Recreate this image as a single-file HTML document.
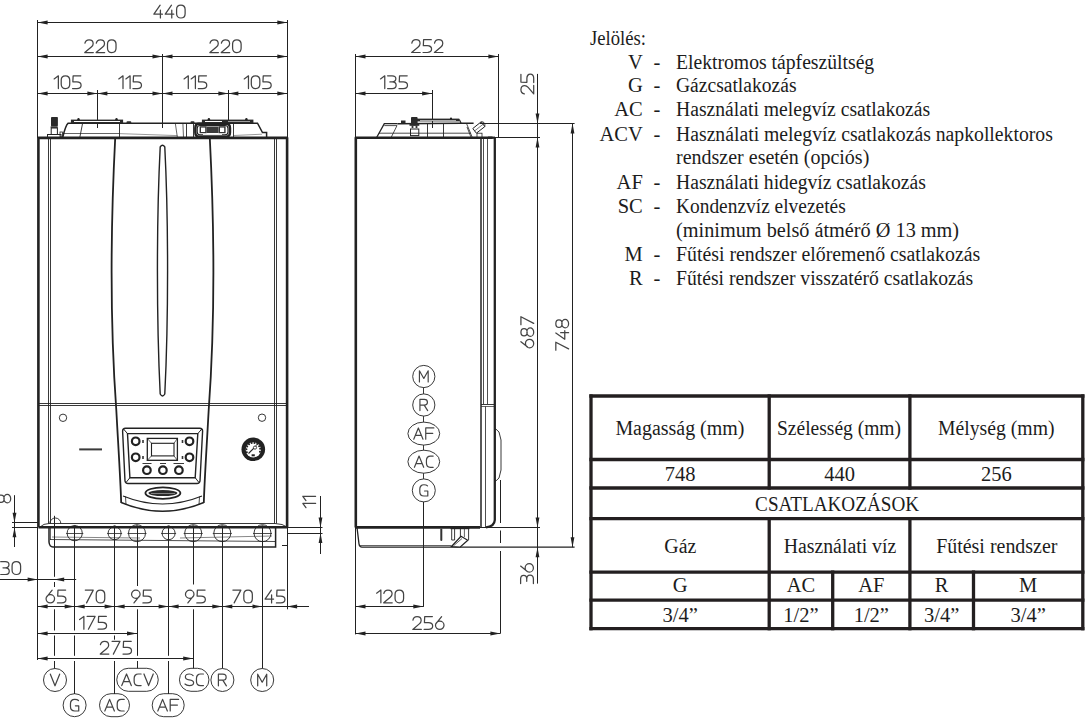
<!DOCTYPE html>
<html><head><meta charset="utf-8"><style>
html,body{margin:0;padding:0;background:#fff;width:1092px;height:722px;overflow:hidden}
svg{display:block}
.d{font-family:"Liberation Sans",sans-serif;font-size:18px;fill:#555}
.l{font-family:"Liberation Sans",sans-serif;font-size:15px;fill:#555}
.s{font-family:"Liberation Serif",serif;font-size:20.5px;fill:#1c1c1c}
</style></head><body>
<svg width="1092" height="722" viewBox="0 0 1092 722" stroke-linecap="butt">
<line x1="37.50" y1="20.00" x2="37.50" y2="137.90" stroke="#222" stroke-width="1.0"/>
<line x1="287.50" y1="20.00" x2="287.50" y2="137.90" stroke="#222" stroke-width="1.0"/>
<line x1="162.50" y1="54.00" x2="162.50" y2="128.00" stroke="#222" stroke-width="1.0"/>
<line x1="97.50" y1="90.00" x2="97.50" y2="128.00" stroke="#222" stroke-width="1.0"/>
<line x1="228.50" y1="90.00" x2="228.50" y2="128.00" stroke="#222" stroke-width="1.0"/>
<line x1="37.60" y1="22.50" x2="287.30" y2="22.50" stroke="#222" stroke-width="1.0"/>
<polygon points="37.60,22.50 47.60,20.60 47.60,24.40" fill="#222"/>
<polygon points="287.30,22.50 277.30,24.40 277.30,20.60" fill="#222"/>
<line x1="37.60" y1="56.50" x2="162.50" y2="56.50" stroke="#222" stroke-width="1.0"/>
<polygon points="37.60,56.50 47.60,54.60 47.60,58.40" fill="#222"/>
<polygon points="162.50,56.50 152.50,58.40 152.50,54.60" fill="#222"/>
<line x1="162.50" y1="56.50" x2="287.30" y2="56.50" stroke="#222" stroke-width="1.0"/>
<polygon points="162.50,56.50 172.50,54.60 172.50,58.40" fill="#222"/>
<polygon points="287.30,56.50 277.30,58.40 277.30,54.60" fill="#222"/>
<line x1="37.60" y1="93.50" x2="97.40" y2="93.50" stroke="#222" stroke-width="1.0"/>
<polygon points="37.60,93.50 47.60,91.60 47.60,95.40" fill="#222"/>
<polygon points="97.40,93.50 87.40,95.40 87.40,91.60" fill="#222"/>
<line x1="97.40" y1="93.50" x2="162.50" y2="93.50" stroke="#222" stroke-width="1.0"/>
<polygon points="97.40,93.50 107.40,91.60 107.40,95.40" fill="#222"/>
<polygon points="162.50,93.50 152.50,95.40 152.50,91.60" fill="#222"/>
<line x1="162.50" y1="93.50" x2="228.40" y2="93.50" stroke="#222" stroke-width="1.0"/>
<polygon points="162.50,93.50 172.50,91.60 172.50,95.40" fill="#222"/>
<polygon points="228.40,93.50 218.40,95.40 218.40,91.60" fill="#222"/>
<line x1="228.40" y1="93.50" x2="287.30" y2="93.50" stroke="#222" stroke-width="1.0"/>
<polygon points="228.40,93.50 238.40,91.60 238.40,95.40" fill="#222"/>
<polygon points="287.30,93.50 277.30,95.40 277.30,91.60" fill="#222"/>
<g transform="translate(153.88,5.22) scale(1.42)" fill="none" stroke="#444" stroke-width="0.88" stroke-linecap="round" stroke-linejoin="round"><path transform="translate(0.00,0)" d="M4.4,0 L0,6.3 L6,6.3 M4.6,3.4 L4.6,9"/><path transform="translate(8.00,0)" d="M4.4,0 L0,6.3 L6,6.3 M4.6,3.4 L4.6,9"/><path transform="translate(16.00,0)" d="M0,3 C0,1.2 1.3,0 3,0 C4.7,0 6,1.2 6,3 L6,6 C6,7.8 4.7,9 3,9 C1.3,9 0,7.8 0,6 Z"/></g>
<g transform="translate(84.78,39.82) scale(1.42)" fill="none" stroke="#444" stroke-width="0.88" stroke-linecap="round" stroke-linejoin="round"><path transform="translate(0.00,0)" d="M0.1,2.4 C0.4,0.9 1.5,0 3,0 C4.8,0 5.9,1.2 5.9,2.7 C5.9,3.7 5.4,4.4 4.6,5.1 L0,9 L6,9"/><path transform="translate(8.00,0)" d="M0.1,2.4 C0.4,0.9 1.5,0 3,0 C4.8,0 5.9,1.2 5.9,2.7 C5.9,3.7 5.4,4.4 4.6,5.1 L0,9 L6,9"/><path transform="translate(16.00,0)" d="M0,3 C0,1.2 1.3,0 3,0 C4.7,0 6,1.2 6,3 L6,6 C6,7.8 4.7,9 3,9 C1.3,9 0,7.8 0,6 Z"/></g>
<g transform="translate(209.88,39.82) scale(1.42)" fill="none" stroke="#444" stroke-width="0.88" stroke-linecap="round" stroke-linejoin="round"><path transform="translate(0.00,0)" d="M0.1,2.4 C0.4,0.9 1.5,0 3,0 C4.8,0 5.9,1.2 5.9,2.7 C5.9,3.7 5.4,4.4 4.6,5.1 L0,9 L6,9"/><path transform="translate(8.00,0)" d="M0.1,2.4 C0.4,0.9 1.5,0 3,0 C4.8,0 5.9,1.2 5.9,2.7 C5.9,3.7 5.4,4.4 4.6,5.1 L0,9 L6,9"/><path transform="translate(16.00,0)" d="M0,3 C0,1.2 1.3,0 3,0 C4.7,0 6,1.2 6,3 L6,6 C6,7.8 4.7,9 3,9 C1.3,9 0,7.8 0,6 Z"/></g>
<g transform="translate(54.11,75.82) scale(1.42)" fill="none" stroke="#444" stroke-width="0.88" stroke-linecap="round" stroke-linejoin="round"><path transform="translate(0.00,0)" d="M0,2.2 L3,0 L3,9"/><path transform="translate(5.00,0)" d="M0,3 C0,1.2 1.3,0 3,0 C4.7,0 6,1.2 6,3 L6,6 C6,7.8 4.7,9 3,9 C1.3,9 0,7.8 0,6 Z"/><path transform="translate(13.00,0)" d="M5.8,0 L0.4,0 L0.2,4.2 L3,4.2 C4.8,4.2 6,5.3 6,6.6 C6,8 4.8,9 3,9 L0,9"/></g>
<g transform="translate(118.74,75.82) scale(1.42)" fill="none" stroke="#444" stroke-width="0.88" stroke-linecap="round" stroke-linejoin="round"><path transform="translate(0.00,0)" d="M0,2.2 L3,0 L3,9"/><path transform="translate(5.00,0)" d="M0,2.2 L3,0 L3,9"/><path transform="translate(10.00,0)" d="M5.8,0 L0.4,0 L0.2,4.2 L3,4.2 C4.8,4.2 6,5.3 6,6.6 C6,8 4.8,9 3,9 L0,9"/></g>
<g transform="translate(184.04,75.82) scale(1.42)" fill="none" stroke="#444" stroke-width="0.88" stroke-linecap="round" stroke-linejoin="round"><path transform="translate(0.00,0)" d="M0,2.2 L3,0 L3,9"/><path transform="translate(5.00,0)" d="M0,2.2 L3,0 L3,9"/><path transform="translate(10.00,0)" d="M5.8,0 L0.4,0 L0.2,4.2 L3,4.2 C4.8,4.2 6,5.3 6,6.6 C6,8 4.8,9 3,9 L0,9"/></g>
<g transform="translate(244.21,75.82) scale(1.42)" fill="none" stroke="#444" stroke-width="0.88" stroke-linecap="round" stroke-linejoin="round"><path transform="translate(0.00,0)" d="M0,2.2 L3,0 L3,9"/><path transform="translate(5.00,0)" d="M0,3 C0,1.2 1.3,0 3,0 C4.7,0 6,1.2 6,3 L6,6 C6,7.8 4.7,9 3,9 C1.3,9 0,7.8 0,6 Z"/><path transform="translate(13.00,0)" d="M5.8,0 L0.4,0 L0.2,4.2 L3,4.2 C4.8,4.2 6,5.3 6,6.6 C6,8 4.8,9 3,9 L0,9"/></g>
<polyline points="38.40,527.20 38.40,137.90 287.10,137.90 287.10,527.20 38.40,527.20" stroke="#222" stroke-width="2.6" fill="none" stroke-linejoin="round"/>
<line x1="48.50" y1="138.00" x2="48.50" y2="523.50" stroke="#222" stroke-width="0.9"/>
<line x1="50.50" y1="138.00" x2="50.50" y2="523.50" stroke="#222" stroke-width="0.9"/>
<line x1="274.50" y1="138.00" x2="274.50" y2="523.50" stroke="#222" stroke-width="0.9"/>
<line x1="276.50" y1="138.00" x2="276.50" y2="523.50" stroke="#222" stroke-width="0.9"/>
<line x1="38.40" y1="403.50" x2="287.10" y2="403.50" stroke="#222" stroke-width="0.9"/>
<line x1="38.40" y1="405.50" x2="287.10" y2="405.50" stroke="#222" stroke-width="0.9"/>
<line x1="49.00" y1="523.50" x2="275.00" y2="523.50" stroke="#222" stroke-width="0.9"/>
<path d="M275,523.5 Q283,523.8 287,527" stroke="#222" stroke-width="0.9" fill="none" />
<path d="M40,527 Q43.5,523.5 49,523.5" stroke="#222" stroke-width="0.9" fill="none" />
<path d="M115.2,138 C110.5,230 110.5,330 116.3,410 C118.5,450 120.5,480 121.2,503" stroke="#222" stroke-width="1.8" fill="none" />
<path d="M209.8,138 C214.5,230 214.5,330 208.7,410 C206.5,450 204.5,480 203.8,503" stroke="#222" stroke-width="1.8" fill="none" />
<path d="M121.2,502.5 Q162.5,520 203.8,502.5" stroke="#222" stroke-width="1.4" fill="none" />
<path d="M123,496 Q162.5,512 202,496" stroke="#222" stroke-width="1.1" fill="none" />
<line x1="125.50" y1="496.50" x2="126.00" y2="505.00" stroke="#222" stroke-width="0.8"/>
<line x1="199.50" y1="496.50" x2="199.00" y2="505.00" stroke="#222" stroke-width="0.8"/>
<path d="M160.2,147 C156.5,220 156.5,320 160.2,394 Q162.5,398 164.8,394 C168.5,320 168.5,220 164.8,147 Q162.5,143.5 160.2,147 Z" stroke="#222" stroke-width="1.4" fill="none" />
<path d="M125.5,428.2 L199.7,428.2 Q202.6,428.2 202.6,431 L200,481 Q199.7,483.5 197,483.5 L128,483.5 Q125.3,483.5 125,481 L122.6,431 Q122.6,428.2 125.5,428.2 Z" stroke="#222" stroke-width="1.4" fill="none" />
<path d="M127.5,433.6 L197.8,433.6 L195.2,477.7 L129.9,477.7 Z" stroke="#222" stroke-width="1.4" fill="none" />
<line x1="123.50" y1="429.00" x2="127.50" y2="433.60" stroke="#222" stroke-width="1"/>
<line x1="201.80" y1="429.00" x2="197.80" y2="433.60" stroke="#222" stroke-width="1"/>
<line x1="125.80" y1="482.80" x2="129.90" y2="477.70" stroke="#222" stroke-width="1"/>
<line x1="199.20" y1="482.80" x2="195.20" y2="477.70" stroke="#222" stroke-width="1"/>
<rect x="147.3" y="438.4" width="30.1" height="21.9" stroke="#222" stroke-width="1.3" fill="none"/>
<rect x="151.5" y="443.3" width="22.5" height="12.6" stroke="#222" stroke-width="1.1" fill="none"/>
<line x1="147.30" y1="438.40" x2="151.50" y2="443.30" stroke="#222" stroke-width="0.7"/>
<line x1="177.40" y1="438.40" x2="174.00" y2="443.30" stroke="#222" stroke-width="0.7"/>
<line x1="147.30" y1="460.30" x2="151.50" y2="455.90" stroke="#222" stroke-width="0.7"/>
<line x1="177.40" y1="460.30" x2="174.00" y2="455.90" stroke="#222" stroke-width="0.7"/>
<circle cx="135.70" cy="441.30" r="3.80" stroke="#222" stroke-width="2.2" fill="none"/>
<circle cx="135.70" cy="457.30" r="3.80" stroke="#222" stroke-width="2.2" fill="none"/>
<circle cx="189.50" cy="441.30" r="3.80" stroke="#222" stroke-width="2.2" fill="none"/>
<circle cx="189.50" cy="457.30" r="3.80" stroke="#222" stroke-width="2.2" fill="none"/>
<circle cx="146.90" cy="470.20" r="3.80" stroke="#222" stroke-width="2.2" fill="none"/>
<circle cx="162.90" cy="470.20" r="3.80" stroke="#222" stroke-width="2.2" fill="none"/>
<circle cx="178.90" cy="470.20" r="3.80" stroke="#222" stroke-width="2.2" fill="none"/>
<rect x="142.2" y="440.0" width="1.6" height="3" fill="#333"/>
<rect x="142.2" y="456.0" width="1.6" height="3" fill="#333"/>
<rect x="181.7" y="440.0" width="1.6" height="3" fill="#333"/>
<rect x="181.7" y="456.0" width="1.6" height="3" fill="#333"/>
<line x1="142.50" y1="463.50" x2="151.50" y2="463.50" stroke="#222" stroke-width="0.9"/>
<line x1="160.00" y1="463.50" x2="166.00" y2="463.50" stroke="#222" stroke-width="0.9"/>
<line x1="173.50" y1="463.50" x2="184.00" y2="463.50" stroke="#222" stroke-width="0.9"/>
<ellipse cx="162.9" cy="493.1" rx="17.5" ry="5.8" stroke="#222" stroke-width="1.8" fill="none"/>
<ellipse cx="162.9" cy="493.1" rx="14.5" ry="3" fill="#2a2a2a"/>
<line x1="151.00" y1="493.50" x2="175.00" y2="493.50" stroke="#999" stroke-width="0.8"/>
<circle cx="63.00" cy="417.80" r="3.70" stroke="#222" stroke-width="0.9" fill="none"/>
<circle cx="262.00" cy="417.70" r="3.70" stroke="#222" stroke-width="0.9" fill="none"/>
<circle cx="253.30" cy="449.30" r="11.80" stroke="#222" stroke-width="0" fill="#222"/>
<circle cx="253.30" cy="449.80" r="7.60" stroke="#222" stroke-width="0" fill="#fff"/>
<circle cx="246.82" cy="452.16" r="1.00" stroke="#222" stroke-width="0" fill="#222"/>
<circle cx="246.42" cy="449.32" r="1.00" stroke="#222" stroke-width="0" fill="#222"/>
<circle cx="247.21" cy="446.56" r="1.00" stroke="#222" stroke-width="0" fill="#222"/>
<circle cx="249.05" cy="444.36" r="1.00" stroke="#222" stroke-width="0" fill="#222"/>
<circle cx="251.63" cy="443.10" r="1.00" stroke="#222" stroke-width="0" fill="#222"/>
<circle cx="254.50" cy="443.00" r="1.00" stroke="#222" stroke-width="0" fill="#222"/>
<circle cx="257.16" cy="444.08" r="1.00" stroke="#222" stroke-width="0" fill="#222"/>
<circle cx="259.15" cy="446.14" r="1.00" stroke="#222" stroke-width="0" fill="#222"/>
<circle cx="260.13" cy="448.84" r="1.00" stroke="#222" stroke-width="0" fill="#222"/>
<circle cx="259.93" cy="451.70" r="1.00" stroke="#222" stroke-width="0" fill="#222"/>
<line x1="248.50" y1="453.50" x2="256.50" y2="445.50" stroke="#222" stroke-width="1.1"/>
<circle cx="255.00" cy="447.60" r="1.60" stroke="#222" stroke-width="0.8" fill="#fff"/>
<rect x="251.6" y="454.3" width="3.2" height="2" fill="#222"/>
<rect x="79.2" y="448.4" width="22.8" height="2" fill="#3a3a3a"/>
<path d="M62.7,137.5 C64,132 66,125 68.2,123.2 L257.5,123.2 L262.5,132.6 L266.6,132.6 L266.6,137.5" stroke="#222" stroke-width="1.5" fill="none" />
<line x1="62.70" y1="133.50" x2="119.00" y2="133.50" stroke="#222" stroke-width="0.7"/>
<line x1="119.00" y1="133.60" x2="177.40" y2="135.60" stroke="#555" stroke-width="0.6"/>
<line x1="233.60" y1="135.50" x2="262.00" y2="134.20" stroke="#555" stroke-width="0.6"/>
<path d="M79.8,137.5 L82.6,123.2" stroke="#222" stroke-width="0.9" fill="none" />
<line x1="119.50" y1="123.20" x2="119.50" y2="137.50" stroke="#222" stroke-width="0.9"/>
<path d="M175.3,123.2 L177.4,137.5 M182.9,123.2 L183.5,137.5" stroke="#222" stroke-width="0.7" fill="none" />
<rect x="70.9" y="119.6" width="52.2" height="3.6" fill="#2a2a2a"/>
<line x1="74.00" y1="121.50" x2="120.00" y2="121.50" stroke="#fff" stroke-width="1.0"/>
<rect x="201.9" y="119.6" width="51.5" height="3.6" fill="#2a2a2a"/>
<line x1="205.00" y1="121.50" x2="222.00" y2="121.50" stroke="#fff" stroke-width="1.0"/>
<line x1="228.00" y1="121.50" x2="250.00" y2="121.50" stroke="#bbb" stroke-width="0.8"/>
<circle cx="78.50" cy="119.30" r="1.20" stroke="#222" stroke-width="0" fill="#222"/>
<circle cx="116.50" cy="119.30" r="1.20" stroke="#222" stroke-width="0" fill="#222"/>
<circle cx="208.90" cy="119.30" r="1.20" stroke="#222" stroke-width="0" fill="#222"/>
<circle cx="246.40" cy="119.30" r="1.20" stroke="#222" stroke-width="0" fill="#222"/>
<rect x="126.5" y="121.2" width="4.8" height="2.3" rx="1" fill="#2a2a2a"/>
<rect x="190.5" y="121.2" width="4" height="2.3" rx="1" fill="#2a2a2a"/>
<line x1="186.50" y1="123.20" x2="186.50" y2="137.50" stroke="#222" stroke-width="0.9"/>
<line x1="193.50" y1="123.20" x2="193.50" y2="137.50" stroke="#222" stroke-width="0.9"/>
<line x1="233.50" y1="123.20" x2="233.50" y2="137.50" stroke="#222" stroke-width="0.9"/>
<path d="M199,123.8 L226,123.8 Q230,123.8 230,128 L230,132.5 Q230,136.6 226,136.6 L199,136.6 Q195.3,136.6 195.3,132.5 L195.3,128 Q195.3,123.8 199,123.8 Z" stroke="#222" stroke-width="2.4" fill="#fff" />
<path d="M200,125.5 L225,125.5 Q228,125.5 228,128.5 L228,132 Q228,134.8 225,134.8 L200,134.8 Q197.2,134.8 197.2,132 L197.2,128.5 Q197.2,125.5 200,125.5 Z" stroke="#222" stroke-width="1.2" fill="none" />
<rect x="199.6" y="126.2" width="7" height="7" fill="#333"/>
<rect x="218.6" y="126.2" width="7" height="7" fill="#333"/>
<rect x="201" y="127.6" width="4.2" height="4.4" fill="#fff"/>
<rect x="220" y="127.6" width="4.2" height="4.4" fill="#fff"/>
<rect x="206.5" y="126.5" width="12" height="6.5" fill="#3a3a3a"/>
<line x1="203.00" y1="134.50" x2="222.00" y2="134.50" stroke="#fff" stroke-width="0.9"/>
<rect x="51" y="116.9" width="6.9" height="9.3" rx="0.8" fill="#2a2a2a"/>
<rect x="50.7" y="126.2" width="7" height="1.8" fill="#444"/>
<rect x="51.2" y="128" width="6.2" height="6.5" fill="none" stroke="#222" stroke-width="1"/>
<rect x="47.5" y="134.5" width="13.5" height="3" fill="none" stroke="#222" stroke-width="1"/>
<rect x="60" y="132" width="2.4" height="5" fill="none" stroke="#222" stroke-width="0.8"/>
<path d="M49,527.5 L49,542 Q49.5,547 53,547 L275.6,547 L275.6,527.5" stroke="#222" stroke-width="1.5" fill="none" />
<line x1="50.50" y1="528.00" x2="50.50" y2="540.00" stroke="#222" stroke-width="0.7"/>
<line x1="50.00" y1="539.50" x2="275.00" y2="541.50" stroke="#222" stroke-width="0.8"/>
<line x1="52.00" y1="537.00" x2="140.00" y2="538.00" stroke="#888" stroke-width="1.0"/>
<line x1="180.00" y1="538.00" x2="272.00" y2="536.00" stroke="#888" stroke-width="1.0"/>
<path d="M49.8,523.5 A5.5,5.5 0 0 1 60.8,523.5" stroke="#222" stroke-width="0.9" fill="none" />
<circle cx="74.70" cy="533.20" r="7.60" stroke="#222" stroke-width="0.9" fill="none"/>
<line x1="66.10" y1="533.50" x2="83.30" y2="533.50" stroke="#222" stroke-width="0.8"/>
<path d="M72.2,527 Q74.7,524 77.2,527" stroke="#222" stroke-width="0.8" fill="none" />
<circle cx="114.60" cy="533.20" r="6.50" stroke="#222" stroke-width="0.9" fill="none"/>
<line x1="107.10" y1="533.50" x2="122.10" y2="533.50" stroke="#222" stroke-width="0.8"/>
<path d="M112.1,527 Q114.6,524 117.1,527" stroke="#222" stroke-width="0.8" fill="none" />
<circle cx="137.00" cy="533.20" r="8.50" stroke="#222" stroke-width="0.9" fill="none"/>
<line x1="127.50" y1="533.50" x2="146.50" y2="533.50" stroke="#222" stroke-width="0.8"/>
<path d="M134.5,527 Q137.0,524 139.5,527" stroke="#222" stroke-width="0.8" fill="none" />
<circle cx="168.60" cy="533.20" r="6.50" stroke="#222" stroke-width="0.9" fill="none"/>
<line x1="161.10" y1="533.50" x2="176.10" y2="533.50" stroke="#222" stroke-width="0.8"/>
<path d="M166.1,527 Q168.6,524 171.1,527" stroke="#222" stroke-width="0.8" fill="none" />
<circle cx="193.20" cy="533.20" r="8.50" stroke="#222" stroke-width="0.9" fill="none"/>
<line x1="183.70" y1="533.50" x2="202.70" y2="533.50" stroke="#222" stroke-width="0.8"/>
<path d="M190.7,527 Q193.2,524 195.7,527" stroke="#222" stroke-width="0.8" fill="none" />
<circle cx="222.30" cy="533.20" r="8.50" stroke="#222" stroke-width="0.9" fill="none"/>
<line x1="212.80" y1="533.50" x2="231.80" y2="533.50" stroke="#222" stroke-width="0.8"/>
<path d="M219.8,527 Q222.3,524 224.8,527" stroke="#222" stroke-width="0.8" fill="none" />
<circle cx="262.50" cy="533.20" r="8.50" stroke="#222" stroke-width="0.9" fill="none"/>
<line x1="253.00" y1="533.50" x2="272.00" y2="533.50" stroke="#222" stroke-width="0.8"/>
<path d="M260.0,527 Q262.5,524 265.0,527" stroke="#222" stroke-width="0.8" fill="none" />
<line x1="37.50" y1="527.00" x2="37.50" y2="660.00" stroke="#222" stroke-width="1.0"/>
<line x1="287.50" y1="527.00" x2="287.50" y2="609.00" stroke="#222" stroke-width="1.0"/>
<line x1="54.50" y1="515.80" x2="54.50" y2="576.80" stroke="#222" stroke-width="1.0"/>
<line x1="54.50" y1="582.00" x2="54.50" y2="587.00" stroke="#222" stroke-width="1.0"/>
<line x1="54.50" y1="609.30" x2="54.50" y2="630.50" stroke="#222" stroke-width="1.0"/>
<line x1="54.50" y1="635.50" x2="54.50" y2="655.80" stroke="#222" stroke-width="1.0"/>
<line x1="54.50" y1="661.00" x2="54.50" y2="668.30" stroke="#222" stroke-width="1.0"/>
<line x1="74.50" y1="527.00" x2="74.50" y2="630.50" stroke="#222" stroke-width="1.0"/>
<line x1="74.50" y1="635.50" x2="74.50" y2="655.80" stroke="#222" stroke-width="1.0"/>
<line x1="74.50" y1="661.00" x2="74.50" y2="694.00" stroke="#222" stroke-width="1.0"/>
<line x1="114.50" y1="527.00" x2="114.50" y2="630.50" stroke="#222" stroke-width="1.0"/>
<line x1="114.50" y1="635.50" x2="114.50" y2="639.70" stroke="#222" stroke-width="1.0"/>
<line x1="114.50" y1="661.00" x2="114.50" y2="694.00" stroke="#222" stroke-width="1.0"/>
<line x1="137.50" y1="527.00" x2="137.50" y2="586.00" stroke="#222" stroke-width="1.0"/>
<line x1="137.50" y1="609.30" x2="137.50" y2="655.80" stroke="#222" stroke-width="1.0"/>
<line x1="137.50" y1="661.00" x2="137.50" y2="668.30" stroke="#222" stroke-width="1.0"/>
<line x1="168.50" y1="527.00" x2="168.50" y2="655.80" stroke="#222" stroke-width="1.0"/>
<line x1="168.50" y1="661.00" x2="168.50" y2="694.00" stroke="#222" stroke-width="1.0"/>
<line x1="193.50" y1="527.00" x2="193.50" y2="584.50" stroke="#222" stroke-width="1.0"/>
<line x1="193.50" y1="609.30" x2="193.50" y2="668.30" stroke="#222" stroke-width="1.0"/>
<line x1="222.50" y1="527.00" x2="222.50" y2="668.30" stroke="#222" stroke-width="1.0"/>
<line x1="262.50" y1="527.00" x2="262.50" y2="668.30" stroke="#222" stroke-width="1.0"/>
<line x1="0.00" y1="579.50" x2="76.20" y2="579.50" stroke="#222" stroke-width="1.0"/>
<polygon points="37.60,579.50 27.60,581.40 27.60,577.60" fill="#222"/>
<polygon points="54.20,579.50 64.20,577.60 64.20,581.40" fill="#222"/>
<g transform="translate(0.72,561.72) scale(1.42)" fill="none" stroke="#444" stroke-width="0.88" stroke-linecap="round" stroke-linejoin="round"><path transform="translate(0.00,0)" d="M0,0 L3.2,0 C4.8,0 5.8,1 5.8,2.15 C5.8,3.3 4.8,4.3 3.2,4.3 L1.6,4.3 M3.2,4.3 C5,4.3 6,5.4 6,6.65 C6,7.9 5,9 3.2,9 L0,9"/><path transform="translate(8.00,0)" d="M0,3 C0,1.2 1.3,0 3,0 C4.7,0 6,1.2 6,3 L6,6 C6,7.8 4.7,9 3,9 C1.3,9 0,7.8 0,6 Z"/></g>
<line x1="37.60" y1="606.50" x2="309.00" y2="606.50" stroke="#222" stroke-width="1.0"/>
<polygon points="37.60,606.50 47.60,604.60 47.60,608.40" fill="#222"/>
<polygon points="74.70,606.50 64.70,608.40 64.70,604.60" fill="#222"/>
<polygon points="74.70,606.50 84.70,604.60 84.70,608.40" fill="#222"/>
<polygon points="114.60,606.50 104.60,608.40 104.60,604.60" fill="#222"/>
<polygon points="114.60,606.50 124.60,604.60 124.60,608.40" fill="#222"/>
<polygon points="168.60,606.50 158.60,608.40 158.60,604.60" fill="#222"/>
<polygon points="168.60,606.50 178.60,604.60 178.60,608.40" fill="#222"/>
<polygon points="222.30,606.50 212.30,608.40 212.30,604.60" fill="#222"/>
<polygon points="222.30,606.50 232.30,604.60 232.30,608.40" fill="#222"/>
<polygon points="262.50,606.50 252.50,608.40 252.50,604.60" fill="#222"/>
<polygon points="287.10,606.50 297.10,604.60 297.10,608.40" fill="#222"/>
<line x1="287.50" y1="603.30" x2="287.50" y2="609.30" stroke="#222" stroke-width="1.0"/>
<g transform="translate(46.06,590.12) scale(1.42)" fill="none" stroke="#444" stroke-width="0.88" stroke-linecap="round" stroke-linejoin="round"><path transform="translate(0.00,0)" d="M0,6.1 A3,2.9 0 1 0 6,6.1 A3,2.9 0 1 0 0,6.1 M4.3,0 L0.5,4.7"/><path transform="translate(8.00,0)" d="M5.8,0 L0.4,0 L0.2,4.2 L3,4.2 C4.8,4.2 6,5.3 6,6.6 C6,8 4.8,9 3,9 L0,9"/></g>
<g transform="translate(84.86,590.12) scale(1.42)" fill="none" stroke="#444" stroke-width="0.88" stroke-linecap="round" stroke-linejoin="round"><path transform="translate(0.00,0)" d="M0.3,0 L5.9,0 L1.2,9"/><path transform="translate(8.00,0)" d="M0,3 C0,1.2 1.3,0 3,0 C4.7,0 6,1.2 6,3 L6,6 C6,7.8 4.7,9 3,9 C1.3,9 0,7.8 0,6 Z"/></g>
<g transform="translate(131.56,590.12) scale(1.42)" fill="none" stroke="#444" stroke-width="0.88" stroke-linecap="round" stroke-linejoin="round"><path transform="translate(0.00,0)" d="M0,2.9 A3,2.9 0 1 0 6,2.9 A3,2.9 0 1 0 0,2.9 M5.5,4.3 L1.7,9"/><path transform="translate(8.00,0)" d="M5.8,0 L0.4,0 L0.2,4.2 L3,4.2 C4.8,4.2 6,5.3 6,6.6 C6,8 4.8,9 3,9 L0,9"/></g>
<g transform="translate(185.46,590.12) scale(1.42)" fill="none" stroke="#444" stroke-width="0.88" stroke-linecap="round" stroke-linejoin="round"><path transform="translate(0.00,0)" d="M0,2.9 A3,2.9 0 1 0 6,2.9 A3,2.9 0 1 0 0,2.9 M5.5,4.3 L1.7,9"/><path transform="translate(8.00,0)" d="M5.8,0 L0.4,0 L0.2,4.2 L3,4.2 C4.8,4.2 6,5.3 6,6.6 C6,8 4.8,9 3,9 L0,9"/></g>
<g transform="translate(232.46,590.12) scale(1.42)" fill="none" stroke="#444" stroke-width="0.88" stroke-linecap="round" stroke-linejoin="round"><path transform="translate(0.00,0)" d="M0.3,0 L5.9,0 L1.2,9"/><path transform="translate(8.00,0)" d="M0,3 C0,1.2 1.3,0 3,0 C4.7,0 6,1.2 6,3 L6,6 C6,7.8 4.7,9 3,9 C1.3,9 0,7.8 0,6 Z"/></g>
<g transform="translate(265.06,590.12) scale(1.42)" fill="none" stroke="#444" stroke-width="0.88" stroke-linecap="round" stroke-linejoin="round"><path transform="translate(0.00,0)" d="M4.4,0 L0,6.3 L6,6.3 M4.6,3.4 L4.6,9"/><path transform="translate(8.00,0)" d="M5.8,0 L0.4,0 L0.2,4.2 L3,4.2 C4.8,4.2 6,5.3 6,6.6 C6,8 4.8,9 3,9 L0,9"/></g>
<line x1="37.60" y1="633.50" x2="137.00" y2="633.50" stroke="#222" stroke-width="1.0"/>
<polygon points="37.60,633.50 47.60,631.60 47.60,635.40" fill="#222"/>
<polygon points="137.00,633.50 127.00,635.40 127.00,631.60" fill="#222"/>
<g transform="translate(79.61,616.42) scale(1.42)" fill="none" stroke="#444" stroke-width="0.88" stroke-linecap="round" stroke-linejoin="round"><path transform="translate(0.00,0)" d="M0,2.2 L3,0 L3,9"/><path transform="translate(5.00,0)" d="M0.3,0 L5.9,0 L1.2,9"/><path transform="translate(13.00,0)" d="M5.8,0 L0.4,0 L0.2,4.2 L3,4.2 C4.8,4.2 6,5.3 6,6.6 C6,8 4.8,9 3,9 L0,9"/></g>
<line x1="37.60" y1="658.50" x2="193.20" y2="658.50" stroke="#222" stroke-width="1.0"/>
<polygon points="37.60,658.50 47.60,656.60 47.60,660.40" fill="#222"/>
<polygon points="193.20,658.50 183.20,660.40 183.20,656.60" fill="#222"/>
<g transform="translate(100.28,641.32) scale(1.42)" fill="none" stroke="#444" stroke-width="0.88" stroke-linecap="round" stroke-linejoin="round"><path transform="translate(0.00,0)" d="M0.1,2.4 C0.4,0.9 1.5,0 3,0 C4.8,0 5.9,1.2 5.9,2.7 C5.9,3.7 5.4,4.4 4.6,5.1 L0,9 L6,9"/><path transform="translate(8.00,0)" d="M0.3,0 L5.9,0 L1.2,9"/><path transform="translate(16.00,0)" d="M5.8,0 L0.4,0 L0.2,4.2 L3,4.2 C4.8,4.2 6,5.3 6,6.6 C6,8 4.8,9 3,9 L0,9"/></g>
<line x1="14.50" y1="495.20" x2="14.50" y2="547.00" stroke="#222" stroke-width="1.0"/>
<polygon points="14.50,522.70 12.60,512.70 16.40,512.70" fill="#222"/>
<polygon points="14.50,527.20 16.40,537.20 12.60,537.20" fill="#222"/>
<line x1="12.00" y1="522.50" x2="38.00" y2="522.50" stroke="#222" stroke-width="1.0"/>
<line x1="12.00" y1="527.50" x2="38.00" y2="527.50" stroke="#222" stroke-width="1.0"/>
<g transform="translate(10.70,498.70) rotate(-90) translate(-4.26,-12.78) scale(1.42)" fill="none" stroke="#444" stroke-width="0.88" stroke-linecap="round" stroke-linejoin="round"><path transform="translate(0.00,0)" d="M0.4,2.2 A2.6,2.2 0 1 0 5.6,2.2 A2.6,2.2 0 1 0 0.4,2.2 M0,6.6 A3,2.4 0 1 0 6,6.6 A3,2.4 0 1 0 0,6.6"/></g>
<line x1="320.50" y1="496.00" x2="320.50" y2="554.00" stroke="#222" stroke-width="1.0"/>
<polygon points="320.50,527.60 318.60,517.60 322.40,517.60" fill="#222"/>
<polygon points="320.50,533.00 322.40,543.00 318.60,543.00" fill="#222"/>
<line x1="287.00" y1="527.50" x2="322.50" y2="527.50" stroke="#222" stroke-width="1.0"/>
<line x1="287.00" y1="533.50" x2="322.50" y2="533.50" stroke="#222" stroke-width="1.0"/>
<line x1="282.00" y1="545.50" x2="287.00" y2="545.50" stroke="#222" stroke-width="1.0"/>
<g transform="translate(315.60,502.00) rotate(-90) translate(-5.68,-12.78) scale(1.42)" fill="none" stroke="#444" stroke-width="0.88" stroke-linecap="round" stroke-linejoin="round"><path transform="translate(0.00,0)" d="M0,2.2 L3,0 L3,9"/><path transform="translate(5.00,0)" d="M0,2.2 L3,0 L3,9"/></g>
<circle cx="55.00" cy="680.00" r="11.50" stroke="#222" stroke-width="0.9" fill="none"/>
<g transform="translate(50.36,674.19) scale(1.29)" fill="none" stroke="#444" stroke-width="0.95" stroke-linecap="round" stroke-linejoin="round"><path transform="translate(0.00,0)" d="M0,0 L3.6,9 L7.2,0"/></g>
<rect x="116.75" y="668.30" width="41.50" height="23.00" rx="11.5" ry="11.5" stroke="#222" stroke-width="0.9" fill="none"/>
<g transform="translate(121.76,673.99) scale(1.29)" fill="none" stroke="#444" stroke-width="0.95" stroke-linecap="round" stroke-linejoin="round"><path transform="translate(0.00,0)" d="M0,9 L3.7,0 L7.4,9 M1.3,6 L6.1,6"/><path transform="translate(9.60,0)" d="M5.4,0 L3.2,0 C1.3,0 0,1.5 0,3.4 L0,5.6 C0,7.5 1.3,9 3.2,9 L5.4,9"/><path transform="translate(17.20,0)" d="M0,0 L3.6,9 L7.2,0"/></g>
<rect x="179.45" y="668.30" width="29.50" height="23.00" rx="11.5" ry="11.5" stroke="#222" stroke-width="0.9" fill="none"/>
<g transform="translate(184.98,673.99) scale(1.29)" fill="none" stroke="#444" stroke-width="0.95" stroke-linecap="round" stroke-linejoin="round"><path transform="translate(0.00,0)" d="M6.3,1.2 C5.6,0.4 4.6,0 3.3,0 C1.5,0 0.3,1 0.3,2.3 C0.3,3.6 1.4,4.2 3.3,4.5 C5.4,4.8 6.7,5.5 6.7,6.8 C6.7,8.1 5.4,9 3.4,9 C1.9,9 0.8,8.6 0,7.8"/><path transform="translate(8.90,0)" d="M5.4,0 L3.2,0 C1.3,0 0,1.5 0,3.4 L0,5.6 C0,7.5 1.3,9 3.2,9 L5.4,9"/></g>
<circle cx="222.40" cy="680.00" r="11.50" stroke="#222" stroke-width="0.9" fill="none"/>
<g transform="translate(218.40,674.19) scale(1.29)" fill="none" stroke="#444" stroke-width="0.95" stroke-linecap="round" stroke-linejoin="round"><path transform="translate(0.00,0)" d="M0,9 L0,0 L3.5,0 C5,0 6,1 6,2.3 C6,3.6 5,4.6 3.5,4.6 L0,4.6 M3.4,4.6 L6.2,9"/></g>
<circle cx="262.20" cy="680.00" r="11.50" stroke="#222" stroke-width="0.9" fill="none"/>
<g transform="translate(257.69,674.19) scale(1.29)" fill="none" stroke="#444" stroke-width="0.95" stroke-linecap="round" stroke-linejoin="round"><path transform="translate(0.00,0)" d="M0,9 L0,0 L3.5,6.2 L7,0 L7,9"/></g>
<circle cx="74.60" cy="705.20" r="11.50" stroke="#222" stroke-width="0.9" fill="none"/>
<g transform="translate(70.47,699.39) scale(1.29)" fill="none" stroke="#444" stroke-width="0.95" stroke-linecap="round" stroke-linejoin="round"><path transform="translate(0.00,0)" d="M6.2,0.9 C5.6,0.3 4.6,0 3.3,0 C1.3,0 0,1.5 0,3.4 L0,5.6 C0,7.5 1.3,9 3.3,9 L6.4,9 L6.4,5 L3.8,5"/></g>
<rect x="99.50" y="693.70" width="30.00" height="23.00" rx="11.5" ry="11.5" stroke="#222" stroke-width="0.9" fill="none"/>
<g transform="translate(104.83,699.39) scale(1.29)" fill="none" stroke="#444" stroke-width="0.95" stroke-linecap="round" stroke-linejoin="round"><path transform="translate(0.00,0)" d="M0,9 L3.7,0 L7.4,9 M1.3,6 L6.1,6"/><path transform="translate(9.60,0)" d="M5.4,0 L3.2,0 C1.3,0 0,1.5 0,3.4 L0,5.6 C0,7.5 1.3,9 3.2,9 L5.4,9"/></g>
<rect x="152.20" y="693.70" width="32.00" height="23.00" rx="11.5" ry="11.5" stroke="#222" stroke-width="0.9" fill="none"/>
<g transform="translate(157.82,699.39) scale(1.29)" fill="none" stroke="#444" stroke-width="0.95" stroke-linecap="round" stroke-linejoin="round"><path transform="translate(0.00,0)" d="M0,9 L3.7,0 L7.4,9 M1.3,6 L6.1,6"/><path transform="translate(9.60,0)" d="M6.5,0 L0,0 L0,9 M0,4.4 L5.6,4.4"/></g>
<line x1="355.50" y1="54.00" x2="355.50" y2="634.40" stroke="#222" stroke-width="1.0"/>
<line x1="498.50" y1="54.00" x2="498.50" y2="137.70" stroke="#222" stroke-width="1.0"/>
<line x1="355.50" y1="56.50" x2="498.40" y2="56.50" stroke="#222" stroke-width="1.0"/>
<polygon points="355.50,56.50 365.50,54.60 365.50,58.40" fill="#222"/>
<polygon points="498.40,56.50 488.40,58.40 488.40,54.60" fill="#222"/>
<g transform="translate(411.68,39.72) scale(1.42)" fill="none" stroke="#444" stroke-width="0.88" stroke-linecap="round" stroke-linejoin="round"><path transform="translate(0.00,0)" d="M0.1,2.4 C0.4,0.9 1.5,0 3,0 C4.8,0 5.9,1.2 5.9,2.7 C5.9,3.7 5.4,4.4 4.6,5.1 L0,9 L6,9"/><path transform="translate(8.00,0)" d="M5.8,0 L0.4,0 L0.2,4.2 L3,4.2 C4.8,4.2 6,5.3 6,6.6 C6,8 4.8,9 3,9 L0,9"/><path transform="translate(16.00,0)" d="M0.1,2.4 C0.4,0.9 1.5,0 3,0 C4.8,0 5.9,1.2 5.9,2.7 C5.9,3.7 5.4,4.4 4.6,5.1 L0,9 L6,9"/></g>
<line x1="355.50" y1="93.50" x2="432.10" y2="93.50" stroke="#222" stroke-width="1.0"/>
<polygon points="355.50,93.50 365.50,91.60 365.50,95.40" fill="#222"/>
<polygon points="432.10,93.50 422.10,95.40 422.10,91.60" fill="#222"/>
<g transform="translate(380.51,75.82) scale(1.42)" fill="none" stroke="#444" stroke-width="0.88" stroke-linecap="round" stroke-linejoin="round"><path transform="translate(0.00,0)" d="M0,2.2 L3,0 L3,9"/><path transform="translate(5.00,0)" d="M0,0 L3.2,0 C4.8,0 5.8,1 5.8,2.15 C5.8,3.3 4.8,4.3 3.2,4.3 L1.6,4.3 M3.2,4.3 C5,4.3 6,5.4 6,6.65 C6,7.9 5,9 3.2,9 L0,9"/><path transform="translate(13.00,0)" d="M5.8,0 L0.4,0 L0.2,4.2 L3,4.2 C4.8,4.2 6,5.3 6,6.6 C6,8 4.8,9 3,9 L0,9"/></g>
<line x1="432.50" y1="90.00" x2="432.50" y2="128.00" stroke="#222" stroke-width="1.0"/>
<polyline points="355.80,527.40 355.80,137.70 492.50,137.70" stroke="#222" stroke-width="2.6" fill="none" stroke-linejoin="round"/>
<line x1="355.80" y1="527.50" x2="540.00" y2="527.50" stroke="#222" stroke-width="1.0"/>
<line x1="355.80" y1="527.40" x2="480.00" y2="527.40" stroke="#222" stroke-width="2.6"/>
<rect x="450.5" y="527" width="19" height="2.2" fill="#222"/>
<line x1="481.00" y1="137.70" x2="481.00" y2="527.00" stroke="#222" stroke-width="1.5"/>
<line x1="483.50" y1="137.70" x2="483.50" y2="404.00" stroke="#222" stroke-width="0.8"/>
<line x1="485.50" y1="406.50" x2="485.50" y2="527.00" stroke="#222" stroke-width="0.8"/>
<line x1="487.50" y1="137.70" x2="487.50" y2="404.00" stroke="#222" stroke-width="0.8"/>
<path d="M494.8,137.7 L494.8,520 Q494.5,526.5 486,527.4" stroke="#222" stroke-width="2.3" fill="none" />
<path d="M494.8,428 L499,432 L501,440 L501,470 L499,478 L494.8,482" stroke="#222" stroke-width="0.9" fill="none" />
<line x1="481.00" y1="404.50" x2="495.00" y2="404.50" stroke="#222" stroke-width="0.9"/>
<line x1="481.00" y1="406.50" x2="495.00" y2="406.50" stroke="#222" stroke-width="0.7"/>
<line x1="488.00" y1="137.70" x2="495.00" y2="137.70" stroke="#222" stroke-width="2.2"/>
<path d="M357,527.4 L359,544 Q359.5,547.2 362,547.2 L574.6,547.2" stroke="#222" stroke-width="1.3" fill="none" />
<line x1="360.00" y1="545.50" x2="451.50" y2="545.50" stroke="#222" stroke-width="0.7"/>
<path d="M441.3,529.5 L441.3,540" stroke="#333" stroke-width="2.0" fill="none" stroke-linecap="round"/>
<path d="M451.7,529 L451.7,540 L454.6,540 L454.6,529" stroke="#222" stroke-width="0.9" fill="none" />
<path d="M460.4,529 L460.4,537 M468.6,529 L468.6,540" stroke="#222" stroke-width="0.9" fill="none" />
<path d="M464.4,529 L464.4,537" stroke="#222" stroke-width="0.7" fill="none" />
<path d="M451.5,546.5 L461,536.3 L467.8,540.3 L460,547.2 Z" stroke="#222" stroke-width="1.2" fill="#fff" />
<line x1="453.50" y1="545.80" x2="462.00" y2="538.50" stroke="#222" stroke-width="0.7"/>
<path d="M376.5,137.7 L384.3,123.7 L397.4,123.7" stroke="#222" stroke-width="1.3" fill="none" />
<path d="M379,133.2 L471,133.2" stroke="#222" stroke-width="0.8" fill="none" />
<path d="M384.3,125.6 L397,125.6 L391,137.7" stroke="#222" stroke-width="0.8" fill="none" />
<rect x="401" y="120.5" width="4.5" height="3.2" fill="#2a2a2a"/>
<path d="M397.4,123.7 L461,123.2 L473.6,123.2" stroke="#222" stroke-width="1.4" fill="none" />
<rect x="417" y="118.6" width="42.3" height="2.8" fill="#2a2a2a"/>
<line x1="420.00" y1="120.50" x2="456.00" y2="120.50" stroke="#bbb" stroke-width="0.9"/>
<path d="M459.3,119.5 L461,123" stroke="#222" stroke-width="1.2" fill="none" />
<circle cx="451.00" cy="118.50" r="1.10" stroke="#222" stroke-width="0" fill="#222"/>
<rect x="411" y="117.1" width="6.6" height="8.4" rx="0.8" fill="#2a2a2a"/>
<rect x="409.5" y="123" width="9.8" height="2.8" fill="#2a2a2a"/>
<rect x="410.5" y="129" width="8.3" height="6.6" fill="none" stroke="#222" stroke-width="1"/>
<rect x="411.6" y="126" width="1.8" height="2" fill="#333"/><rect x="415.6" y="126" width="1.8" height="2" fill="#333"/>
<line x1="427.50" y1="123.20" x2="427.50" y2="137.70" stroke="#222" stroke-width="0.9"/>
<line x1="443.50" y1="123.20" x2="443.50" y2="137.70" stroke="#222" stroke-width="0.9"/>
<path d="M466.4,123.2 L472.4,137.7 M467,127 L471.2,137.7" stroke="#222" stroke-width="0.8" fill="none" />
<path d="M472.8,128.5 L481.2,121.8 L484.8,126.6 L476.4,133.2 Z" stroke="#222" stroke-width="1.0" fill="#fff" />
<path d="M481.2,121.8 Q485.5,121.5 484.8,126.6" stroke="#222" stroke-width="0.9" fill="none" />
<line x1="474.50" y1="131.00" x2="483.00" y2="124.30" stroke="#222" stroke-width="0.6"/>
<rect x="477" y="133.2" width="5" height="4.5" fill="none" stroke="#222" stroke-width="0.8"/>
<line x1="480.00" y1="123.50" x2="574.60" y2="123.50" stroke="#222" stroke-width="1.0"/>
<line x1="495.00" y1="137.50" x2="540.00" y2="137.50" stroke="#222" stroke-width="1.0"/>
<line x1="537.50" y1="73.90" x2="537.50" y2="583.60" stroke="#222" stroke-width="1.0"/>
<polygon points="537.50,123.40 535.60,113.40 539.40,113.40" fill="#222"/>
<polygon points="537.50,137.50 539.40,147.50 535.60,147.50" fill="#222"/>
<polygon points="537.50,527.40 535.60,517.40 539.40,517.40" fill="#222"/>
<polygon points="537.50,547.20 539.40,557.20 535.60,557.20" fill="#222"/>
<line x1="572.50" y1="123.40" x2="572.50" y2="547.20" stroke="#222" stroke-width="1.0"/>
<polygon points="572.50,123.40 574.40,133.40 570.60,133.40" fill="#222"/>
<polygon points="572.50,547.20 570.60,537.20 574.40,537.20" fill="#222"/>
<g transform="translate(533.70,84.00) rotate(-90) translate(-9.94,-12.78) scale(1.42)" fill="none" stroke="#444" stroke-width="0.88" stroke-linecap="round" stroke-linejoin="round"><path transform="translate(0.00,0)" d="M0.1,2.4 C0.4,0.9 1.5,0 3,0 C4.8,0 5.9,1.2 5.9,2.7 C5.9,3.7 5.4,4.4 4.6,5.1 L0,9 L6,9"/><path transform="translate(8.00,0)" d="M5.8,0 L0.4,0 L0.2,4.2 L3,4.2 C4.8,4.2 6,5.3 6,6.6 C6,8 4.8,9 3,9 L0,9"/></g>
<g transform="translate(533.70,332.20) rotate(-90) translate(-15.62,-12.78) scale(1.42)" fill="none" stroke="#444" stroke-width="0.88" stroke-linecap="round" stroke-linejoin="round"><path transform="translate(0.00,0)" d="M0,6.1 A3,2.9 0 1 0 6,6.1 A3,2.9 0 1 0 0,6.1 M4.3,0 L0.5,4.7"/><path transform="translate(8.00,0)" d="M0.4,2.2 A2.6,2.2 0 1 0 5.6,2.2 A2.6,2.2 0 1 0 0.4,2.2 M0,6.6 A3,2.4 0 1 0 6,6.6 A3,2.4 0 1 0 0,6.6"/><path transform="translate(16.00,0)" d="M0.3,0 L5.9,0 L1.2,9"/></g>
<g transform="translate(568.60,335.00) rotate(-90) translate(-15.62,-12.78) scale(1.42)" fill="none" stroke="#444" stroke-width="0.88" stroke-linecap="round" stroke-linejoin="round"><path transform="translate(0.00,0)" d="M0.3,0 L5.9,0 L1.2,9"/><path transform="translate(8.00,0)" d="M4.4,0 L0,6.3 L6,6.3 M4.6,3.4 L4.6,9"/><path transform="translate(16.00,0)" d="M0.4,2.2 A2.6,2.2 0 1 0 5.6,2.2 A2.6,2.2 0 1 0 0.4,2.2 M0,6.6 A3,2.4 0 1 0 6,6.6 A3,2.4 0 1 0 0,6.6"/></g>
<g transform="translate(533.40,573.60) rotate(-90) translate(-9.94,-12.78) scale(1.42)" fill="none" stroke="#444" stroke-width="0.88" stroke-linecap="round" stroke-linejoin="round"><path transform="translate(0.00,0)" d="M0,0 L3.2,0 C4.8,0 5.8,1 5.8,2.15 C5.8,3.3 4.8,4.3 3.2,4.3 L1.6,4.3 M3.2,4.3 C5,4.3 6,5.4 6,6.65 C6,7.9 5,9 3.2,9 L0,9"/><path transform="translate(8.00,0)" d="M0,6.1 A3,2.9 0 1 0 6,6.1 A3,2.9 0 1 0 0,6.1 M4.3,0 L0.5,4.7"/></g>
<line x1="500.50" y1="480.00" x2="500.50" y2="523.00" stroke="#222" stroke-width="1.0"/>
<line x1="500.50" y1="530.50" x2="500.50" y2="543.00" stroke="#222" stroke-width="1.0"/>
<line x1="500.50" y1="551.00" x2="500.50" y2="633.50" stroke="#222" stroke-width="1.0"/>
<line x1="355.50" y1="606.50" x2="423.30" y2="606.50" stroke="#222" stroke-width="1.0"/>
<polygon points="355.50,606.50 365.50,604.60 365.50,608.40" fill="#222"/>
<polygon points="423.30,606.50 413.30,608.40 413.30,604.60" fill="#222"/>
<g transform="translate(376.61,590.02) scale(1.42)" fill="none" stroke="#444" stroke-width="0.88" stroke-linecap="round" stroke-linejoin="round"><path transform="translate(0.00,0)" d="M0,2.2 L3,0 L3,9"/><path transform="translate(5.00,0)" d="M0.1,2.4 C0.4,0.9 1.5,0 3,0 C4.8,0 5.9,1.2 5.9,2.7 C5.9,3.7 5.4,4.4 4.6,5.1 L0,9 L6,9"/><path transform="translate(13.00,0)" d="M0,3 C0,1.2 1.3,0 3,0 C4.7,0 6,1.2 6,3 L6,6 C6,7.8 4.7,9 3,9 C1.3,9 0,7.8 0,6 Z"/></g>
<line x1="355.50" y1="633.50" x2="500.40" y2="633.50" stroke="#222" stroke-width="1.0"/>
<polygon points="355.50,633.50 365.50,631.60 365.50,635.40" fill="#222"/>
<polygon points="500.40,633.50 490.40,635.40 490.40,631.60" fill="#222"/>
<g transform="translate(412.78,616.62) scale(1.42)" fill="none" stroke="#444" stroke-width="0.88" stroke-linecap="round" stroke-linejoin="round"><path transform="translate(0.00,0)" d="M0.1,2.4 C0.4,0.9 1.5,0 3,0 C4.8,0 5.9,1.2 5.9,2.7 C5.9,3.7 5.4,4.4 4.6,5.1 L0,9 L6,9"/><path transform="translate(8.00,0)" d="M5.8,0 L0.4,0 L0.2,4.2 L3,4.2 C4.8,4.2 6,5.3 6,6.6 C6,8 4.8,9 3,9 L0,9"/><path transform="translate(16.00,0)" d="M0,6.1 A3,2.9 0 1 0 6,6.1 A3,2.9 0 1 0 0,6.1 M4.3,0 L0.5,4.7"/></g>
<circle cx="423.80" cy="376.50" r="11.10" stroke="#222" stroke-width="0.9" fill="none"/>
<g transform="translate(419.43,370.75) scale(1.25)" fill="none" stroke="#444" stroke-width="0.95" stroke-linecap="round" stroke-linejoin="round"><path transform="translate(0.00,0)" d="M0,9 L0,0 L3.5,6.2 L7,0 L7,9"/></g>
<line x1="423.50" y1="387.60" x2="423.50" y2="393.90" stroke="#222" stroke-width="0.9"/>
<circle cx="423.80" cy="405.00" r="11.10" stroke="#222" stroke-width="0.9" fill="none"/>
<g transform="translate(419.93,399.35) scale(1.25)" fill="none" stroke="#444" stroke-width="0.95" stroke-linecap="round" stroke-linejoin="round"><path transform="translate(0.00,0)" d="M0,9 L0,0 L3.5,0 C5,0 6,1 6,2.3 C6,3.6 5,4.6 3.5,4.6 L0,4.6 M3.4,4.6 L6.2,9"/></g>
<line x1="423.50" y1="416.10" x2="423.50" y2="422.10" stroke="#222" stroke-width="0.9"/>
<ellipse cx="423.8" cy="433.6" rx="15.9" ry="11.5" stroke="#222" stroke-width="0.9" fill="none"/>
<g transform="translate(413.74,427.95) scale(1.25)" fill="none" stroke="#444" stroke-width="0.95" stroke-linecap="round" stroke-linejoin="round"><path transform="translate(0.00,0)" d="M0,9 L3.7,0 L7.4,9 M1.3,6 L6.1,6"/><path transform="translate(9.60,0)" d="M6.5,0 L0,0 L0,9 M0,4.4 L5.6,4.4"/></g>
<line x1="423.50" y1="445.10" x2="423.50" y2="450.20" stroke="#222" stroke-width="0.9"/>
<ellipse cx="423.8" cy="461.7" rx="15.9" ry="11.5" stroke="#222" stroke-width="0.9" fill="none"/>
<g transform="translate(414.43,456.05) scale(1.25)" fill="none" stroke="#444" stroke-width="0.95" stroke-linecap="round" stroke-linejoin="round"><path transform="translate(0.00,0)" d="M0,9 L3.7,0 L7.4,9 M1.3,6 L6.1,6"/><path transform="translate(9.60,0)" d="M5.4,0 L3.2,0 C1.3,0 0,1.5 0,3.4 L0,5.6 C0,7.5 1.3,9 3.2,9 L5.4,9"/></g>
<line x1="423.50" y1="473.20" x2="423.50" y2="478.90" stroke="#222" stroke-width="0.9"/>
<circle cx="423.80" cy="490.40" r="11.50" stroke="#222" stroke-width="0.9" fill="none"/>
<g transform="translate(419.80,484.75) scale(1.25)" fill="none" stroke="#444" stroke-width="0.95" stroke-linecap="round" stroke-linejoin="round"><path transform="translate(0.00,0)" d="M6.2,0.9 C5.6,0.3 4.6,0 3.3,0 C1.3,0 0,1.5 0,3.4 L0,5.6 C0,7.5 1.3,9 3.3,9 L6.4,9 L6.4,5 L3.8,5"/></g>
<line x1="423.50" y1="501.90" x2="423.50" y2="606.90" stroke="#222" stroke-width="1.0"/>
<text x="590" y="44.7" class="s" textLength="56" lengthAdjust="spacingAndGlyphs">Jelölés:</text>
<text x="642.8" y="68.5" class="s" text-anchor="end">V</text>
<text x="657" y="68.5" class="s" text-anchor="middle">-</text>
<text x="676" y="68.5" class="s" textLength="198.2" lengthAdjust="spacingAndGlyphs">Elektromos tápfeszültség</text>
<text x="642.8" y="92.3" class="s" text-anchor="end">G</text>
<text x="657" y="92.3" class="s" text-anchor="middle">-</text>
<text x="676" y="92.3" class="s" textLength="120.5" lengthAdjust="spacingAndGlyphs">Gázcsatlakozás</text>
<text x="642.8" y="116.2" class="s" text-anchor="end">AC</text>
<text x="657" y="116.2" class="s" text-anchor="middle">-</text>
<text x="676" y="116.2" class="s" textLength="254.1" lengthAdjust="spacingAndGlyphs">Használati melegvíz csatlakozás</text>
<text x="642.8" y="140.6" class="s" text-anchor="end">ACV</text>
<text x="657" y="140.6" class="s" text-anchor="middle">-</text>
<text x="676" y="140.6" class="s" textLength="376.8" lengthAdjust="spacingAndGlyphs">Használati melegvíz csatlakozás napkollektoros</text>
<text x="676" y="164.4" class="s" textLength="193.3" lengthAdjust="spacingAndGlyphs">rendszer esetén (opciós)</text>
<text x="642.8" y="188.5" class="s" text-anchor="end">AF</text>
<text x="657" y="188.5" class="s" text-anchor="middle">-</text>
<text x="676" y="188.5" class="s" textLength="249.8" lengthAdjust="spacingAndGlyphs">Használati hidegvíz csatlakozás</text>
<text x="642.8" y="212.7" class="s" text-anchor="end">SC</text>
<text x="657" y="212.7" class="s" text-anchor="middle">-</text>
<text x="676" y="212.7" class="s" textLength="169.7" lengthAdjust="spacingAndGlyphs">Kondenzvíz elvezetés</text>
<text x="676" y="236.7" class="s" textLength="283.1" lengthAdjust="spacingAndGlyphs">(minimum belső átmérő Ø 13 mm)</text>
<text x="642.8" y="260.9" class="s" text-anchor="end">M</text>
<text x="657" y="260.9" class="s" text-anchor="middle">-</text>
<text x="676" y="260.9" class="s" textLength="304.2" lengthAdjust="spacingAndGlyphs">Fűtési rendszer előremenő csatlakozás</text>
<text x="642.8" y="285.1" class="s" text-anchor="end">R</text>
<text x="657" y="285.1" class="s" text-anchor="middle">-</text>
<text x="676" y="285.1" class="s" textLength="297.2" lengthAdjust="spacingAndGlyphs">Fűtési rendszer visszatérő csatlakozás</text>
<line x1="591" y1="396" x2="1082.8" y2="396" stroke="#231f20" stroke-width="3.3" stroke-linecap="square"/>
<line x1="591" y1="628.7" x2="1082.8" y2="628.7" stroke="#231f20" stroke-width="3.3" stroke-linecap="square"/>
<line x1="591" y1="396" x2="591" y2="628.7" stroke="#231f20" stroke-width="3.3" stroke-linecap="square"/>
<line x1="1082.8" y1="396" x2="1082.8" y2="628.7" stroke="#231f20" stroke-width="3.3" stroke-linecap="square"/>
<line x1="591" y1="459.5" x2="1082.8" y2="459.5" stroke="#231f20" stroke-width="3.3" stroke-linecap="square"/>
<line x1="591" y1="488" x2="1082.8" y2="488" stroke="#231f20" stroke-width="3.3" stroke-linecap="square"/>
<line x1="591" y1="518.7" x2="1082.8" y2="518.7" stroke="#231f20" stroke-width="3.3" stroke-linecap="square"/>
<line x1="591" y1="572.1" x2="1082.8" y2="572.1" stroke="#231f20" stroke-width="3.3" stroke-linecap="square"/>
<line x1="591" y1="600.2" x2="1082.8" y2="600.2" stroke="#231f20" stroke-width="3.3" stroke-linecap="square"/>
<line x1="769.2" y1="396" x2="769.2" y2="488" stroke="#231f20" stroke-width="3.3" stroke-linecap="square"/>
<line x1="909.9" y1="396" x2="909.9" y2="488" stroke="#231f20" stroke-width="3.3" stroke-linecap="square"/>
<line x1="769.2" y1="518.7" x2="769.2" y2="628.7" stroke="#231f20" stroke-width="3.3" stroke-linecap="square"/>
<line x1="909.9" y1="518.7" x2="909.9" y2="628.7" stroke="#231f20" stroke-width="3.3" stroke-linecap="square"/>
<line x1="832.7" y1="572.1" x2="832.7" y2="628.7" stroke="#231f20" stroke-width="3.3" stroke-linecap="square"/>
<line x1="973.5" y1="572.1" x2="973.5" y2="628.7" stroke="#231f20" stroke-width="3.3" stroke-linecap="square"/>
<text x="679.9" y="435.3" class="s" text-anchor="middle" textLength="129" lengthAdjust="spacingAndGlyphs">Magasság (mm)</text>
<text x="839.0" y="435.3" class="s" text-anchor="middle" textLength="124" lengthAdjust="spacingAndGlyphs">Szélesség (mm)</text>
<text x="996.3" y="435.3" class="s" text-anchor="middle" textLength="116.4" lengthAdjust="spacingAndGlyphs">Mélység (mm)</text>
<text x="680.1" y="481" class="s" text-anchor="middle">748</text>
<text x="839.5" y="481" class="s" text-anchor="middle">440</text>
<text x="996.3" y="481" class="s" text-anchor="middle">256</text>
<text x="837.1" y="510.6" class="s" text-anchor="middle" textLength="164" lengthAdjust="spacingAndGlyphs">CSATLAKOZÁSOK</text>
<text x="680.3" y="552.7" class="s" text-anchor="middle" textLength="32" lengthAdjust="spacingAndGlyphs">Gáz</text>
<text x="840.0" y="552.7" class="s" text-anchor="middle" textLength="112.6" lengthAdjust="spacingAndGlyphs">Használati víz</text>
<text x="996.8" y="552.7" class="s" text-anchor="middle" textLength="121.3" lengthAdjust="spacingAndGlyphs">Fűtési rendszer</text>
<text x="680.1" y="592.4" class="s" text-anchor="middle">G</text>
<text x="801.0" y="592.4" class="s" text-anchor="middle">AC</text>
<text x="871.3" y="592.4" class="s" text-anchor="middle">AF</text>
<text x="941.7" y="592.4" class="s" text-anchor="middle">R</text>
<text x="1028.2" y="592.4" class="s" text-anchor="middle">M</text>
<text x="680.1" y="621.5" class="s" text-anchor="middle">3/4”</text>
<text x="801.0" y="621.5" class="s" text-anchor="middle">1/2”</text>
<text x="871.3" y="621.5" class="s" text-anchor="middle">1/2”</text>
<text x="941.7" y="621.5" class="s" text-anchor="middle">3/4”</text>
<text x="1028.2" y="621.5" class="s" text-anchor="middle">3/4”</text>
</svg>
</body></html>
